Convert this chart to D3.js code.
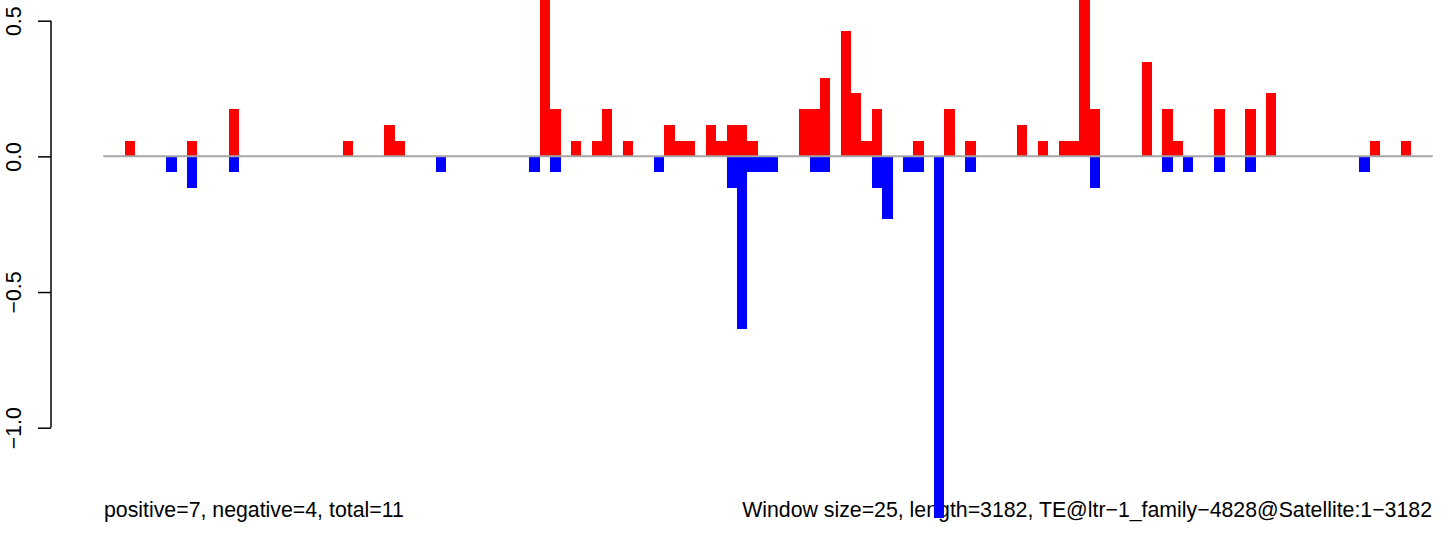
<!DOCTYPE html>
<html>
<head>
<meta charset="utf-8">
<script src="https://cdn.jsdelivr.net/npm/d3@7"></script>
<style>
  html, body { margin: 0; padding: 0; background: #fff; }
  svg { display: block; font-family: "Liberation Sans", Arial, Helvetica, sans-serif; }
</style>
</head>
<body>
<svg id="chart" width="1444" height="539"></svg>
<script>
// ---- data ----
const windowCount = 128;               // 3182 bp / window size 25
const posWindows = [2, 8, 12, 23, 27, 28, 42, 43, 45, 47, 48, 50, 54, 55, 56, 58, 59, 60, 61, 62,
                    67, 68, 69, 71, 72, 73, 74, 78, 81, 83, 88, 90, 92, 93, 94, 95, 100, 102, 103,
                    107, 110, 112, 122, 125];
const posValues  = [0.058, 0.058, 0.174, 0.058, 0.116, 0.058, 0.64, 0.174, 0.058, 0.058, 0.174, 0.058,
                    0.116, 0.058, 0.058, 0.116, 0.058, 0.116, 0.116, 0.058,
                    0.174, 0.174, 0.29, 0.463, 0.232, 0.058, 0.174, 0.058, 0.174, 0.058, 0.116, 0.058,
                    0.058, 0.058, 0.64, 0.174, 0.348, 0.174, 0.058,
                    0.174, 0.174, 0.232, 0.058, 0.058];
const negWindows = [6, 8, 12, 32, 41, 43, 53, 60, 61, 62, 63, 64, 68, 69, 74, 75, 77, 78, 80, 83,
                    95, 102, 104, 107, 110, 121];
const negValues  = [-0.058, -0.116, -0.058, -0.058, -0.058, -0.058, -0.058, -0.116, -0.637, -0.058,
                    -0.058, -0.058, -0.058, -0.058, -0.116, -0.232, -0.058, -0.058, -1.332, -0.058,
                    -0.116, -0.058, -0.058, -0.058, -0.058, -0.058];
const yTicks = [0.5, 0.0, -0.5, -1.0];
const yTickLabels = ["0.5", "0.0", "\u22120.5", "\u22121.0"];
const leftNote  = "positive=7, negative=4, total=11";
const rightNote = "Window size=25, length=3182, TE@ltr\u22121_family\u22124828@Satellite:1\u22123182";

// ---- drawing ----
const svg = d3.select("#chart");
const x = d3.scaleBand().domain(d3.range(windowCount)).range([104, 1432]).padding(0);
const y = d3.scaleLinear().domain([-1, 0.5]).range([427.7, 20.7]);

const pos = posWindows.map((w, i) => ({w, v: posValues[i]}));
const neg = negWindows.map((w, i) => ({w, v: negValues[i]}));

// notes (drawn first; bars paint over them as in the original)
svg.append("text").attr("x", 104).attr("y", 517).attr("font-size", 21.3)
  .attr("fill", "#000").text(leftNote);
svg.append("text").attr("x", 1432).attr("y", 517).attr("font-size", 21.3)
  .attr("text-anchor", "end").attr("fill", "#000").text(rightNote);

svg.append("g").selectAll("rect").data(pos).join("rect")
  .attr("x", d => x(d.w))
  .attr("width", x.bandwidth())
  .attr("y", d => y(d.v))
  .attr("height", d => y(0) - y(d.v))
  .attr("fill", "#FF0000")
  .attr("shape-rendering", "crispEdges");

svg.append("g").selectAll("rect").data(neg).join("rect")
  .attr("x", d => x(d.w))
  .attr("width", x.bandwidth())
  .attr("y", y(0))
  .attr("height", d => y(d.v) - y(0))
  .attr("fill", "#0000FF")
  .attr("shape-rendering", "crispEdges");

// zero line
svg.append("line")
  .attr("x1", 103.3).attr("x2", 1432.7)
  .attr("y1", y(0)).attr("y2", y(0))
  .attr("stroke", "#A6A6A6").attr("stroke-width", 2);

// y axis
const axis = d3.axisLeft(y).tickValues(yTicks).tickSize(13).tickPadding(12)
  .tickFormat((d, i) => yTickLabels[i]);
const ag = svg.append("g").attr("transform", "translate(51,0)").call(axis);
ag.select(".domain").attr("d", `M0,${y(0.5)}V${y(-1)}`).attr("stroke", "#000").attr("stroke-width", 1.5);
ag.selectAll(".tick line").attr("stroke", "#000").attr("stroke-width", 1.5);
ag.selectAll(".tick text")
  .attr("x", null).attr("dy", null)
  .attr("transform", "translate(-30,0) rotate(-90)")
  .attr("text-anchor", "middle")
  .attr("font-size", 21.3)
  .attr("font-family", "Liberation Sans, Arial, sans-serif")
  .attr("fill", "#000");
</script>
</body>
</html>
